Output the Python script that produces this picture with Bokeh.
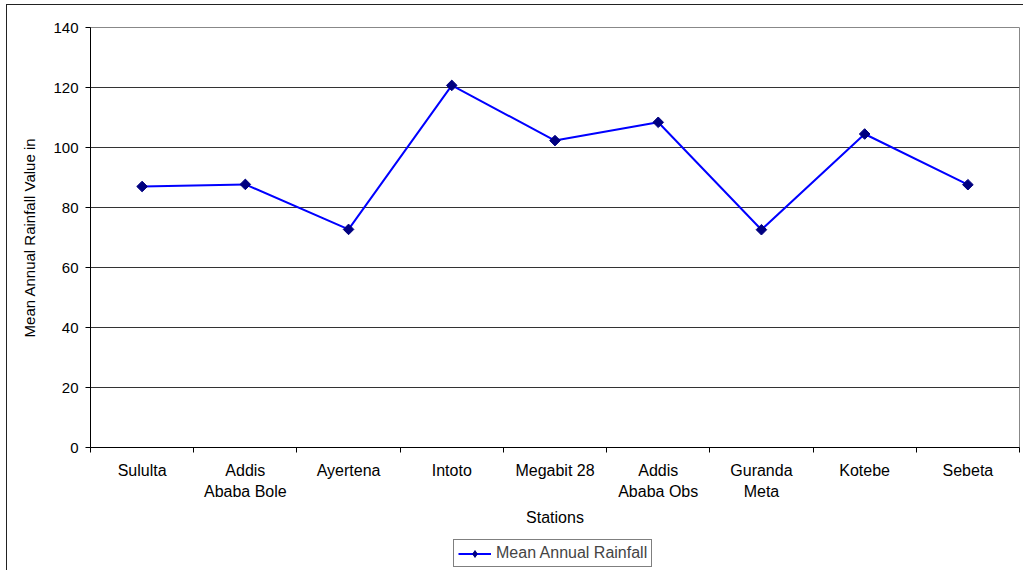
import numpy as np
from bokeh.plotting import figure
from bokeh.layouts import column
from bokeh.models import (ColumnDataSource, FixedTicker, Range1d, Legend, LegendItem)
from bokeh.embed import file_html
from bokeh.resources import INLINE

stations = ["Sululta", "Addis Ababa Bole", "Ayertena", "Intoto", "Megabit 28",
            "Addis Ababa Obs", "Guranda Meta", "Kotebe", "Sebeta"]
tick_labels = ["Sululta", "Addis\nAbaba Bole", "Ayertena", "Intoto", "Megabit 28",
               "Addis\nAbaba Obs", "Guranda\nMeta", "Kotebe", "Sebeta"]
rainfall = [87.0, 87.7, 72.7, 120.7, 102.3, 108.4, 72.6, 104.5, 87.6]
y_ticks = [0, 20, 40, 60, 80, 100, 120, 140]
series_name = "Mean Annual Rainfall"

FONT = "Liberation Sans"
LINE_COLOR = "#0000FF"
MARK_COLOR = "#000080"

xpos = np.arange(len(stations)) + 0.5
src = ColumnDataSource(dict(x=xpos, y=rainfall, name=stations))

p = figure(width=1016, height=532, output_backend="svg", toolbar_location=None,
           x_range=Range1d(0, len(stations)), y_range=Range1d(0, 140),
           min_border_left=83, min_border_top=22, min_border_right=4, min_border_bottom=90)

line = p.line("x", "y", source=src, line_color=LINE_COLOR, line_width=2)
pts = p.scatter("x", "y", source=src, marker="square", angle=np.pi / 4, angle_units="rad",
                size=7.5, fill_color=MARK_COLOR, line_color=MARK_COLOR)

# axes
xa = p.xaxis[0]
xa.ticker = FixedTicker(ticks=list(xpos), minor_ticks=list(np.arange(len(stations) + 1)))
xa.major_label_overrides = {float(x): t for x, t in zip(xpos, tick_labels)}
xa.major_tick_out = 0
xa.major_tick_in = 0
xa.minor_tick_out = 5
xa.minor_tick_in = 0
xa.minor_tick_line_color = "black"
xa.major_label_standoff = 9
xa.major_label_text_font = FONT
xa.major_label_text_font_size = "16px"
xa.major_label_text_color = "black"
xa.major_label_text_line_height = 1.25
xa.axis_line_color = "black"
xa.axis_label = "Stations"
xa.axis_label_text_font = FONT
xa.axis_label_text_font_size = "16px"
xa.axis_label_text_font_style = "normal"
xa.axis_label_text_color = "black"
xa.axis_label_standoff = 6

ya = p.yaxis[0]
ya.ticker = FixedTicker(ticks=y_ticks)
ya.major_tick_out = 5
ya.major_tick_in = 0
ya.minor_tick_line_color = None
ya.major_tick_line_color = "black"
ya.major_label_standoff = 7
ya.major_label_text_font = FONT
ya.major_label_text_font_size = "15px"
ya.major_label_text_color = "black"
ya.axis_line_color = "black"
ya.axis_label = "Mean Annual Rainfall Value in"
ya.axis_label_text_font = FONT
ya.axis_label_text_font_size = "15px"
ya.axis_label_text_font_style = "normal"
ya.axis_label_text_color = "black"
ya.axis_label_standoff = 12

p.xgrid.grid_line_color = None
p.ygrid.grid_line_color = "#333333"
p.ygrid.grid_line_width = 1
p.outline_line_color = "#888888"
p.outline_line_width = 1

# legend strip below the chart
lf = figure(width=1016, height=33, output_backend="svg", toolbar_location=None,
            x_range=Range1d(1000, 1001), y_range=Range1d(1000, 1001),
            min_border_left=83, min_border_top=0, min_border_right=4, min_border_bottom=0)
lf.axis.visible = False
lf.grid.visible = False
lf.outline_line_color = None
l_line = lf.line("x", "y", source=src, line_color=LINE_COLOR, line_width=2)
l_pts = lf.scatter("x", "y", source=src, marker="diamond",
                   size=12, fill_color=MARK_COLOR, line_color=MARK_COLOR)
legend = Legend(items=[LegendItem(label=series_name, renderers=[l_line, l_pts])],
                location=(363, 3), orientation="horizontal",
                label_text_font=FONT, label_text_font_size="16px",
                label_height=17, glyph_height=17,
                border_line_color="black", border_line_width=1,
                padding=4, spacing=0, glyph_width=33, label_standoff=5, margin=0,
                background_fill_alpha=1)
lf.add_layout(legend, "center")

layout = column(p, lf, spacing=0,
                styles={"border-left": "1.5px solid #222", "border-top": "1.5px solid #222",
                        "margin-left": "6px", "margin-top": "4px"})

open("out.html", "w").write(file_html(layout, INLINE))
